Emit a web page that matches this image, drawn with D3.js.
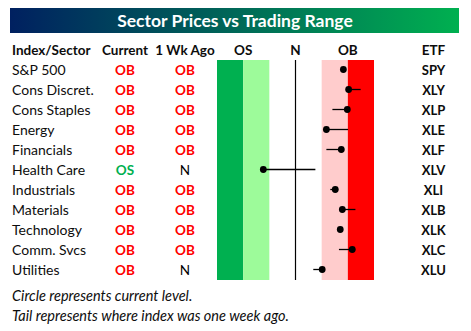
<!DOCTYPE html>
<html>
<head>
<meta charset="utf-8">
<script src="https://cdn.jsdelivr.net/npm/d3@7"></script>
<style>
  body { margin: 0; background: #fff; }
  svg text { font-family: Lato, "Open Sans", sans-serif; }
</style>
</head>
<body>
<div id="chart"></div>
<script>
const sectors = ["S&P 500", "Cons Discret.", "Cons Staples", "Energy", "Financials", "Health Care",
  "Industrials", "Materials", "Technology", "Comm. Svcs", "Utilities"];
const etfs = ["SPY", "XLY", "XLP", "XLE", "XLF", "XLV", "XLI", "XLB", "XLK", "XLC", "XLU"];
const currentStatus = ["OB", "OB", "OB", "OB", "OB", "OS", "OB", "OB", "OB", "OB", "OB"];
const weekAgoStatus = ["OB", "OB", "OB", "OB", "OB", "N", "OB", "OB", "OB", "OB", "N"];
// position in trading range (std devs from 50-day average)
const currentLevel = [1.83, 2.03, 1.98, 1.18, 1.75, -1.23, 1.52, 1.79, 1.71, 2.17, 1.02];
const weekAgoLevel = [1.80, 2.49, 1.41, 2.01, 1.18, 0.76, 1.33, 2.29, 1.73, 1.66, 0.68];
const zones = [
  { from: -3, to: -2, color: "#00b050" },
  { from: -2, to: -1, color: "#9dfb9a" },
  { from: 1, to: 2, color: "#ffcccc" },
  { from: 2, to: 3, color: "#ff0000" }
];
const headers = ["Index/Sector", "Current", "1 Wk Ago", "OS", "N", "OB", "ETF"];

const width = 471, height = 331;
const statusColor = { OB: "#ff0000", OS: "#00b050", N: "#000000" };

const svg = d3.select("#chart").append("svg")
  .attr("width", width).attr("height", height);

// title bar
const grad = svg.append("defs").append("linearGradient").attr("id", "tg");
grad.append("stop").attr("offset", "0%").attr("stop-color", "#002060");
grad.append("stop").attr("offset", "100%").attr("stop-color", "#00b050");
svg.append("rect").attr("x", 10).attr("y", 8).attr("width", 449).attr("height", 25)
  .attr("fill", "url(#tg)");
svg.append("text").attr("x", 235).attr("y", 26.5).attr("text-anchor", "middle")
  .attr("fill", "#fff").attr("font-size", 17.5).attr("font-weight", "bold")
  .text("Sector Prices vs Trading Range");

const x = d3.scaleLinear().domain([-3, 3]).range([217, 374]);
const y = d3.scaleBand().domain(d3.range(sectors.length)).range([60, 280]);

// header row
const headerX = [12, 125, 185, x(-2), x(0), x(2), 433.5];
const headerAnchor = ["start", "middle", "middle", "middle", "middle", "middle", "middle"];
svg.append("g").selectAll("text").data(headers).join("text")
  .attr("x", (d, i) => headerX[i]).attr("y", 55)
  .attr("text-anchor", (d, i) => headerAnchor[i])
  .attr("font-size", 13.5).attr("font-weight", "bold").attr("fill", "#0d0d0d")
  .text(d => d);

// zones
svg.append("g").selectAll("rect").data(zones).join("rect")
  .attr("x", d => x(d.from)).attr("width", d => x(d.to) - x(d.from))
  .attr("y", y.range()[0]).attr("height", y.range()[1] - y.range()[0])
  .attr("fill", d => d.color);

svg.append("line").attr("x1", x(0)).attr("x2", x(0))
  .attr("y1", y.range()[0]).attr("y2", y.range()[1])
  .attr("stroke", "#000").attr("stroke-width", 1.2);

const rows = svg.append("g").selectAll("g").data(sectors).join("g")
  .attr("transform", (d, i) => `translate(0,${y(i) + y.bandwidth() / 2})`);

rows.append("text").attr("x", 12).attr("y", 5)
  .attr("font-size", 14).attr("fill", "#0d0d0d").text(d => d);
rows.append("text").attr("x", 125).attr("y", 5).attr("text-anchor", "middle")
  .attr("font-size", 13.5).attr("font-weight", "bold")
  .attr("fill", (d, i) => statusColor[currentStatus[i]]).text((d, i) => currentStatus[i]);
rows.append("text").attr("x", 185).attr("y", 5).attr("text-anchor", "middle")
  .attr("font-size", 13.5).attr("font-weight", (d, i) => weekAgoStatus[i] === "N" ? "normal" : "bold")
  .attr("fill", (d, i) => statusColor[weekAgoStatus[i]]).text((d, i) => weekAgoStatus[i]);
rows.append("text").attr("x", 433.5).attr("y", 5).attr("text-anchor", "middle")
  .attr("font-size", 13).attr("font-weight", "bold").attr("fill", "#0d0d0d")
  .text((d, i) => etfs[i]);

// tails and dots
rows.append("line")
  .attr("x1", (d, i) => x(weekAgoLevel[i])).attr("x2", (d, i) => x(currentLevel[i]))
  .attr("y1", -0.5).attr("y2", -0.5)
  .attr("stroke", "#000").attr("stroke-width", 1.3);
rows.append("circle")
  .attr("cx", (d, i) => x(currentLevel[i])).attr("cy", -0.5).attr("r", 3.4)
  .attr("fill", "#000");

// notes
svg.append("text").attr("x", 12).attr("y", 300.5).attr("font-size", 14.5)
  .attr("font-style", "italic").attr("fill", "#0d0d0d")
  .text("Circle represents current level.");
svg.append("text").attr("x", 12).attr("y", 321).attr("font-size", 14.5)
  .attr("font-style", "italic").attr("fill", "#0d0d0d")
  .text("Tail represents where index was one week ago.");
</script>
</body>
</html>
